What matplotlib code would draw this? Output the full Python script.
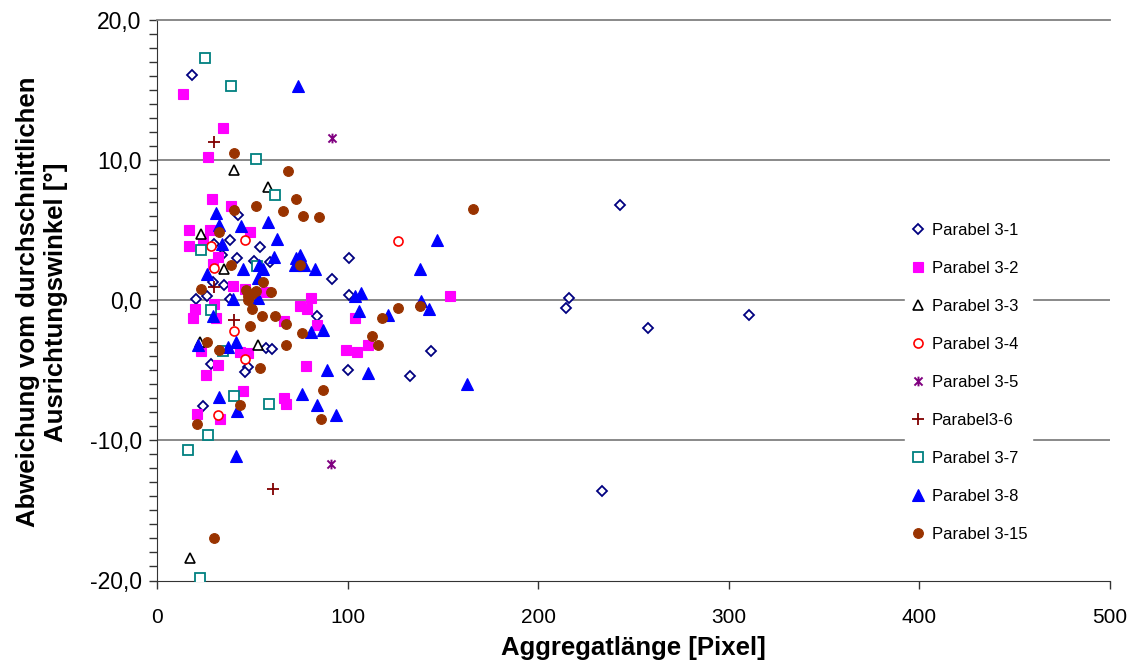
import matplotlib
matplotlib.use("Agg")
import matplotlib.pyplot as plt
from matplotlib.path import Path
from matplotlib.ticker import MultipleLocator, FuncFormatter

plt.rcParams['font.family'] = ['Liberation Sans', 'DejaVu Sans']

# ---- data (x = Aggregatlänge [Pixel], y = Abweichung [°]) ----
p31_x = [18.2, 42.3, 38.2, 30.1, 54.2, 34.2, 42.0, 51.1, 59.2, 29.2, 35.2, 92.0, 100.5, 100.5, 20.4, 26.2,
         38.2, 84.1, 57.2, 60.2, 28.3, 48.0, 46.2, 100.0, 24.3, 143.8, 133.0, 242.9, 216.2, 214.7, 257.6,
         310.5, 233.5]
p31_y = [16.1, 6.1, 4.3, 4.0, 3.8, 3.2, 3.0, 2.8, 2.7, 1.3, 1.07, 1.5, 3.05, 0.36, 0.1, 0.3,
         0.08, -1.1, -3.4, -3.5, -4.55, -4.74, -5.1, -5.0, -7.55, -3.6, -5.4, 6.8, 0.14, -0.57, -2.0,
         -1.07, -13.6]

p32_x = [13.8, 34.7, 26.7, 28.8, 38.6, 16.9, 27.9, 48.9, 24.1, 16.9, 32.1, 29.2, 40.1, 46.2, 57.0, 80.6,
         29.8, 20.0, 19.0, 30.9, 74.9, 78.9, 66.8, 83.8, 98.9, 22.9, 43.8, 47.8, 31.9, 25.8, 78.0, 45.0,
         66.8, 67.7, 20.9, 33.0, 153.8, 103.7, 110.6, 104.7]
p32_y = [14.7, 12.3, 10.2, 7.2, 6.7, 5.0, 5.0, 4.9, 4.4, 3.9, 3.1, 2.57, 1.0, 0.8, 0.6, 0.15,
         -0.24, -0.6, -1.24, -1.26, -0.4, -0.62, -1.5, -1.76, -3.57, -3.6, -3.7, -3.8, -4.64, -5.3, -4.67, -6.5,
         -6.95, -7.4, -8.1, -8.5, 0.33, -1.3, -3.2, -3.7]

p33_x = [40.2, 58.0, 22.9, 34.9, 22.3, 53.0, 17.1]
p33_y = [9.3, 8.1, 4.7, 2.2, -3.0, -3.2, -18.4]

p34_x = [46.1, 28.2, 29.9, 40.3, 46.1, 32.1, 126.7]
p34_y = [4.3, 3.9, 2.3, -2.2, -4.2, -8.2, 4.24]

p35_x = [92.0, 91.1]
p35_y = [11.6, -11.7]

p36_x = [30.0, 30.0, 40.3, 61.1]
p36_y = [11.3, 0.95, -1.4, -13.5]

p37_x = [25.1, 38.6, 51.7, 62.0, 22.9, 52.7, 28.1, 34.7, 40.2, 58.8, 26.7, 16.1, 22.7]
p37_y = [17.3, 15.3, 10.1, 7.5, 3.6, 2.45, -0.7, -3.64, -6.86, -7.4, -9.6, -10.7, -19.8]

p38_x = [74.2, 31.0, 58.0, 32.5, 44.0, 62.8, 33.9, 61.3, 73.1, 75.2, 72.4, 77.0, 83.1, 53.3, 55.7, 26.0,
         45.0, 53.0, 40.0, 53.2, 29.2, 87.1, 81.0, 21.3, 37.0, 41.2, 89.0, 32.3, 76.1, 83.9, 42.0, 93.9,
         41.2, 146.8, 137.9, 103.8, 106.8, 138.7, 142.8, 105.9, 121.1, 110.8, 162.8]
p38_y = [15.3, 6.2, 5.6, 5.36, 5.3, 4.4, 3.98, 3.1, 3.0, 3.2, 2.5, 2.5, 2.2, 2.5, 2.26, 1.9,
         2.2, 1.6, 0.1, 0.15, -1.1, -2.1, -2.29, -3.2, -3.36, -3.0, -5.0, -6.9, -6.7, -7.45, -7.9, -8.2,
         -11.1, 4.3, 2.26, 0.29, 0.52, -0.07, -0.6, -0.8, -1.07, -5.2, -5.95]

p315_x = [40.3, 68.7, 72.8, 52.0, 40.2, 66.1, 76.8, 84.8, 32.3, 38.7, 75.0, 55.8, 22.9, 46.5, 47.8, 50.1,
          51.8, 59.8, 47.8, 50.1, 55.0, 61.9, 67.9, 49.0, 75.9, 26.0, 32.3, 67.9, 54.1, 86.9, 43.8, 85.9,
          21.1, 30.0, 165.8, 126.7, 137.9, 117.8, 112.7, 116.0]
p315_y = [10.5, 9.2, 7.2, 6.7, 6.45, 6.4, 6.0, 5.95, 4.9, 2.5, 2.5, 1.3, 0.83, 0.7, 0.3, 0.48,
          0.64, 0.57, 0.05, -0.6, -1.1, -1.1, -1.7, -1.86, -2.33, -3.0, -3.55, -3.2, -4.8, -6.4, -7.5, -8.45,
          -8.8, -16.95, 6.5, -0.57, -0.4, -1.26, -2.55, -3.17]

labels = ["Parabel 3-1", "Parabel 3-2", "Parabel 3-3", "Parabel 3-4", "Parabel 3-5",
          "Parabel3-6", "Parabel 3-7", "Parabel 3-8", "Parabel 3-15"]

x_ticks = [0, 100, 200, 300, 400, 500]
y_ticks = [-20, -10, 0, 10, 20]

# star marker (x with vertical bar)
star_path = Path([(-1, -1), (1, 1), (-1, 1), (1, -1), (0, -1.2), (0, 1.2)],
                 [Path.MOVETO, Path.LINETO, Path.MOVETO, Path.LINETO, Path.MOVETO, Path.LINETO])

fig = plt.figure(figsize=(11.36, 6.63), dpi=100)
ax = fig.add_axes([157/1136, 82.5/663, 953/1136, 560.5/663])

ax.set_xlim(0, 500)
ax.set_ylim(-20, 20)

for yv in [-10, 0, 10]:
    ax.axhline(yv, color='#808080', lw=1.3, zorder=1)

series = [
    (p31_x, p31_y, dict(marker='D', ms=5.4, mfc='white', mec='#000080', mew=1.3)),
    (p32_x, p32_y, dict(marker='s', ms=7.0, mfc='#FF00FF', mec='#FF00FF', mew=0.8)),
    (p33_x, p33_y, dict(marker='^', ms=7.0, mfc='white', mec='#000000', mew=1.2)),
    (p34_x, p34_y, dict(marker='o', ms=6.5, mfc='white', mec='#FF0000', mew=1.2)),
    (p35_x, p35_y, dict(marker=star_path, ms=7.0, mfc='none', mec='#800080', mew=1.4)),
    (p36_x, p36_y, dict(marker='+', ms=8.0, mec='#800000', mew=1.3)),
    (p37_x, p37_y, dict(marker='s', ms=6.5, mfc='white', mec='#008080', mew=1.3)),
    (p38_x, p38_y, dict(marker='^', ms=8.0, mfc='#0000FF', mec='#0000FF', mew=0.8)),
    (p315_x, p315_y, dict(marker='o', ms=7.0, mfc='#993300', mec='#993300', mew=0.8)),
]
for (xs, ys, st), lab in zip(series, labels):
    ax.plot(xs, ys, linestyle='none', label=lab, zorder=3, **st)

ax.set_xticks(x_ticks)
ax.set_yticks(y_ticks)
ax.yaxis.set_minor_locator(MultipleLocator(1))
ax.yaxis.set_major_formatter(FuncFormatter(lambda v, p: f"{v:.1f}".replace('.', ',')))
ax.tick_params(axis='both', which='both', direction='out', length=6, width=1, color='#333333')
ax.tick_params(axis='y', labelsize=16.5, pad=5)
ax.tick_params(axis='x', labelsize=15, pad=14)

ax.spines['right'].set_visible(False)
ax.spines['top'].set_color('#808080')
ax.spines['top'].set_linewidth(1.3)
ax.spines['left'].set_color('#333333')
ax.spines['bottom'].set_color('#333333')

fig.text(633/1136, 15/663, "Aggregatlänge [Pixel]", ha='center', va='center',
         fontsize=18.5, fontweight='bold')
fig.text(42/1136, (663-302)/663, "Abweichung vom durchschnittlichen\nAusrichtungswinkel [°]",
         ha='center', va='center', rotation=90, fontsize=18.5, fontweight='bold',
         multialignment='center', linespacing=1.2)

leg = ax.legend(loc='center left', bbox_to_anchor=(905/1136, (663-382.5)/663),
                bbox_transform=fig.transFigure, frameon=True, fancybox=False,
                edgecolor='white', facecolor='white', framealpha=1,
                fontsize=12, handlelength=1.0, handletextpad=0.3, labelspacing=1.38,
                borderpad=0.3, borderaxespad=0, numpoints=1)
leg.set_zorder(5)

fig.savefig("out.png", dpi=100)
